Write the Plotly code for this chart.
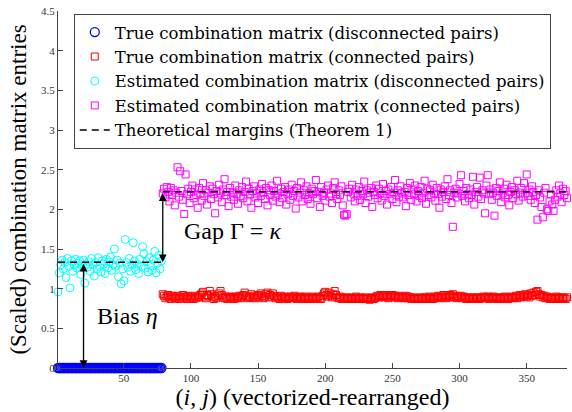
import plotly.graph_objects as go

# ---------------- data ----------------
idx_disc = list(range(1, 79))     # disconnected pairs
idx_conn = list(range(79, 381))   # connected pairs

true_disc = [0.0] * 78

est_disc = [0.96, 1.20, 1.30, 1.36, 1.25, 1.33, 1.14, 1.38, 1.28, 1.01,
            1.35, 1.22, 1.30, 1.37, 1.26, 1.32, 1.35, 1.18, 1.29, 1.36,
            1.07, 1.31, 1.27, 1.34, 1.22, 1.38, 1.30, 1.16, 1.33, 1.25,
            1.39, 1.28, 1.21, 1.35, 1.31, 1.19, 1.37, 1.26, 1.34, 1.40,
            1.23, 1.30, 1.50, 1.28, 1.36, 1.15, 1.32, 1.06, 1.25, 1.10,
            1.62, 1.33, 1.27, 1.38, 1.22, 1.30, 1.58, 1.35, 1.24, 1.31,
            1.19, 1.37, 1.28, 1.53, 1.44, 1.26, 1.34, 1.21, 1.39, 1.29,
            1.23, 1.36, 1.47, 1.20, 1.32, 1.42, 1.25, 1.35]

true_conn = [0.93, 0.91, 0.88, 0.90, 0.92, 0.89, 0.87, 0.91, 0.90, 0.88,
             0.89, 0.91, 0.87, 0.90, 0.88, 0.92, 0.89, 0.90, 0.87, 0.91,
             0.88, 0.90, 0.89, 0.87, 0.91, 0.88, 0.90, 0.89, 0.92, 0.94,
             0.96, 0.90, 0.88, 0.92, 0.91, 0.97, 0.93, 0.89, 0.87, 0.90,
             0.88, 0.91, 0.94, 0.97, 0.92, 0.89, 0.88, 0.90, 0.87, 0.89,
             0.90, 0.88, 0.89, 0.87, 0.90, 0.88, 0.89, 0.91, 0.88, 0.90,
             0.92, 0.95, 0.91, 0.89, 0.88, 0.90, 0.93, 0.89, 0.91, 0.88,
             0.90, 0.92, 0.89, 0.94, 0.91, 0.88, 0.90, 0.93, 0.95, 0.89,
             0.92, 0.90, 0.94, 0.91, 0.88, 0.90, 0.89, 0.87, 0.91, 0.88,
             0.89, 0.90, 0.88, 0.87, 0.89, 0.90, 0.88, 0.89, 0.91, 0.88,
             0.87, 0.89, 0.90, 0.88, 0.89, 0.87, 0.90, 0.88, 0.89, 0.87,
             0.88, 0.90, 0.89, 0.87, 0.88, 0.89, 0.90, 0.88, 0.87, 0.91,
             0.94, 0.96, 0.92, 0.90, 0.95, 0.91, 0.89, 0.93, 0.97, 0.92,
             0.89, 0.88, 0.90, 0.87, 0.89, 0.88, 0.87, 0.89, 0.88, 0.87,
             0.88, 0.89, 0.87, 0.88, 0.90, 0.88, 0.87, 0.89, 0.88, 0.87,
             0.88, 0.89, 0.87, 0.88, 0.86, 0.88, 0.89, 0.87, 0.88, 0.90,
             0.91, 0.89, 0.92, 0.90, 0.91, 0.89, 0.92, 0.90, 0.88, 0.91,
             0.90, 0.92, 0.89, 0.91, 0.90, 0.88, 0.91, 0.89, 0.90, 0.88,
             0.89, 0.91, 0.88, 0.90, 0.89, 0.87, 0.88, 0.89, 0.87, 0.88,
             0.87, 0.88, 0.89, 0.87, 0.88, 0.89, 0.87, 0.88, 0.90, 0.88,
             0.89, 0.87, 0.88, 0.90, 0.89, 0.91, 0.88, 0.90, 0.89, 0.92,
             0.90, 0.88, 0.91, 0.89, 0.92, 0.90, 0.93, 0.89, 0.91, 0.88,
             0.90, 0.89, 0.91, 0.88, 0.90, 0.89, 0.87, 0.88, 0.89, 0.87,
             0.88, 0.89, 0.87, 0.88, 0.89, 0.88, 0.87, 0.89, 0.88, 0.90,
             0.89, 0.88, 0.90, 0.87, 0.89, 0.88, 0.90, 0.89, 0.88, 0.87,
             0.89, 0.88, 0.87, 0.89, 0.88, 0.90, 0.89, 0.87, 0.88, 0.89,
             0.90, 0.88, 0.89, 0.91, 0.88, 0.90, 0.92, 0.89, 0.91, 0.90,
             0.93, 0.90, 0.92, 0.89, 0.94, 0.91, 0.95, 0.92, 0.96, 0.97,
             0.93, 0.90, 0.92, 0.89, 0.91, 0.88, 0.90, 0.89, 0.87, 0.88,
             0.89, 0.87, 0.88, 0.90, 0.88, 0.89, 0.87, 0.88, 0.89, 0.88,
             0.87, 0.89]

est_conn = [2.20, 2.26, 2.15, 2.28, 2.22, 2.10, 2.27, 2.18, 2.24, 2.05,
            2.21, 2.53, 2.16, 2.48, 2.23, 2.12, 1.94, 2.44, 2.19, 2.26,
            2.08, 2.22, 2.30, 2.14, 2.25, 2.18, 2.02, 2.27, 2.20, 2.11,
            2.33, 2.17, 2.24, 2.06, 2.21, 2.29, 2.13, 2.26, 2.19, 1.95,
            2.23, 2.15, 2.31, 2.20, 2.09, 2.25, 2.38, 2.18, 2.22, 2.04,
            2.27, 2.16, 2.21, 2.12, 2.30, 2.19, 2.07, 2.24, 2.17, 2.28,
            2.14, 2.22, 2.35, 2.10, 2.26, 2.19, 2.02, 2.23, 2.29, 2.15,
            2.20, 2.08, 2.25, 2.17, 2.32, 2.21, 2.13, 2.27, 2.05, 2.24,
            2.18, 2.30, 2.11, 2.23, 2.16, 2.36, 2.20, 2.09, 2.26, 2.14,
            2.22, 2.28, 2.06, 2.19, 2.25, 2.12, 2.31, 2.17, 2.23, 2.01,
            2.27, 2.15, 2.21, 2.34, 2.10, 2.24, 2.18, 2.29, 2.13, 2.20,
            2.07, 2.26, 2.19, 2.23, 2.37, 2.14, 2.22, 2.03, 2.28, 2.17,
            2.21, 2.11, 2.25, 2.30, 2.16, 2.20, 2.08, 2.27, 2.34, 2.19,
            2.13, 2.24, 2.18, 2.29, 2.05, 1.93, 1.92, 1.94, 2.22, 2.26,
            2.15, 2.31, 2.20, 2.10, 2.25, 2.17, 2.28, 2.12, 2.23, 2.19,
            2.35, 2.08, 2.24, 2.16, 2.21, 2.27, 2.03, 2.22, 2.18, 2.30,
            2.14, 2.26, 2.20, 2.11, 2.32, 2.17, 2.23, 2.06, 2.25, 2.19,
            2.28, 2.13, 2.21, 2.37, 2.09, 2.24, 2.16, 2.29, 2.20, 2.15,
            2.22, 2.04, 2.27, 2.18, 2.33, 2.12, 2.25, 2.19, 2.30, 2.10,
            2.23, 2.17, 2.28, 2.14, 2.21, 2.36, 2.07, 2.26, 2.18, 2.24,
            2.15, 2.31, 2.20, 2.11, 2.27, 2.19, 2.02, 2.25, 2.16, 2.22,
            2.29, 2.13, 2.38, 2.18, 2.24, 2.08, 1.78, 2.21, 2.26, 2.15,
            2.20, 2.32, 2.43, 2.17, 2.23, 2.10, 2.27, 2.19, 2.14, 2.25,
            2.18, 2.41, 2.06, 2.22, 2.28, 2.16, 2.40, 2.13, 2.24, 2.20,
            1.95, 2.30, 2.43, 2.19, 2.25, 2.12, 2.21, 1.92, 2.27, 2.17,
            2.23, 2.34, 2.09, 2.20, 2.26, 2.15, 2.31, 2.18, 2.05, 2.22,
            2.28, 2.14, 2.24, 2.19, 2.36, 2.11, 2.21, 2.27, 2.16, 2.33,
            2.20, 2.44, 2.17, 2.25, 2.12, 2.29, 2.22, 2.08, 2.18, 1.87,
            2.24, 2.15, 2.03, 1.90, 2.21, 2.27, 2.00, 1.98, 2.10, 2.19,
            2.06, 1.98, 2.12, 2.24, 2.16, 2.30, 2.20, 2.09, 2.26, 2.18,
            2.23, 2.14]

margin_disc = 1.333   # theoretical margin, disconnected pairs
margin_conn = 2.222   # theoretical margin, connected pairs

x_ticks = [50, 100, 150, 200, 250, 300, 350]
y_ticks = [0, 0.5, 1, 1.5, 2, 2.5, 3, 3.5, 4, 4.5]
y_tick_text = ["0", "0.5", "1", "1.5", "2", "2.5", "3", "3.5", "4", "4.5"]

legend_names = ["True combination matrix (disconnected pairs)",
                "True combination matrix (connected pairs)",
                "Estimated combination matrix (disconnected pairs)",
                "Estimated combination matrix (connected pairs)",
                "Theoretical margins (Theorem 1)"]

# ---------------- figure ----------------
SERIF = "Liberation Serif, Times New Roman, serif"
WIDE_SERIF = "DejaVu Serif, serif"
fig = go.Figure()

fig.add_trace(go.Scatter(x=idx_disc, y=true_disc, mode="markers", name=legend_names[0],
                         cliponaxis=False,
                         marker=dict(symbol="circle-open", size=9, color="#0000ff",
                                     line=dict(width=1.3, color="#0000ff"))))
fig.add_trace(go.Scatter(x=idx_conn, y=true_conn, mode="markers", name=legend_names[1],
                         cliponaxis=False,
                         marker=dict(symbol="square-open", size=7, color="#ff0000",
                                     line=dict(width=1, color="#ff0000"))))
fig.add_trace(go.Scatter(x=idx_disc, y=est_disc, mode="markers", name=legend_names[2],
                         cliponaxis=False,
                         marker=dict(symbol="circle-open", size=8, color="#00ffff",
                                     line=dict(width=1, color="#00ffff"))))
fig.add_trace(go.Scatter(x=idx_conn, y=est_conn, mode="markers", name=legend_names[3],
                         cliponaxis=False,
                         marker=dict(symbol="square-open", size=7, color="#ff00ff",
                                     line=dict(width=1, color="#ff00ff"))))
fig.add_trace(go.Scatter(x=[idx_disc[0], idx_disc[-1], None, idx_conn[0], idx_conn[-1]],
                         y=[margin_disc, margin_disc, None, margin_conn, margin_conn],
                         mode="lines", name=legend_names[4],
                         line=dict(color="black", width=1.5, dash="7px,5px")))

# double-headed arrows
fig.add_annotation(x=20, y=0, ax=20, ay=margin_disc, xref="x", yref="y",
                   axref="x", ayref="y", showarrow=True, arrowhead=2, arrowsize=1.2,
                   arrowwidth=1.3, arrowcolor="black", arrowside="end+start", text="")
fig.add_annotation(x=79, y=margin_disc, ax=79, ay=margin_conn, xref="x", yref="y",
                   axref="x", ayref="y", showarrow=True, arrowhead=2, arrowsize=1.2,
                   arrowwidth=1.3, arrowcolor="black", arrowside="end+start", text="")

fig.add_annotation(x=53, y=0.66, xref="x", yref="y", text="Bias <i>η</i>", showarrow=False,
                   font=dict(family=SERIF, size=24, color="black"))
fig.add_annotation(x=131, y=1.73, xref="x", yref="y", text="Gap Γ = <i>κ</i>", showarrow=False,
                   font=dict(family=SERIF, size=24, color="black"))

fig.update_layout(
    width=572, height=412,
    margin=dict(l=58, r=5, t=9, b=44),
    plot_bgcolor="white", paper_bgcolor="white",
    font=dict(family=SERIF, color="#262626"),
    showlegend=True,
    legend=dict(x=0.031, y=0.992, xanchor="left", yanchor="top",
                bgcolor="white", bordercolor="#444", borderwidth=1,
                font=dict(family=WIDE_SERIF, size=16.5, color="black"),
                itemwidth=30, tracegroupgap=0),
    xaxis=dict(range=[1, 380], tickvals=x_ticks, ticks="inside", ticklen=5,
               tickcolor="#444", showline=True, linecolor="#444", linewidth=1,
               showgrid=False, zeroline=False, mirror=False,
               tickfont=dict(family=SERIF, size=11, color="#333"),
               title=dict(text="(<i>i</i>, <i>j</i>) (vectorized-rearranged)",
                          font=dict(family=SERIF, size=24, color="black"), standoff=0)),
    yaxis=dict(range=[0, 4.5], tickvals=y_ticks, ticktext=y_tick_text, ticks="inside",
               ticklen=5, tickcolor="#444", showline=True, linecolor="#444", linewidth=1,
               showgrid=False, zeroline=False, mirror=False,
               tickfont=dict(family=SERIF, size=11, color="#333"),
               title=dict(text="(Scaled) combination matrix entries",
                          font=dict(family=SERIF, size=23, color="black"), standoff=7)),
)

fig.write_html("out.html", config={"displayModeBar": False},
               post_script="document.body.style.margin='0';document.body.style.padding='0';")
